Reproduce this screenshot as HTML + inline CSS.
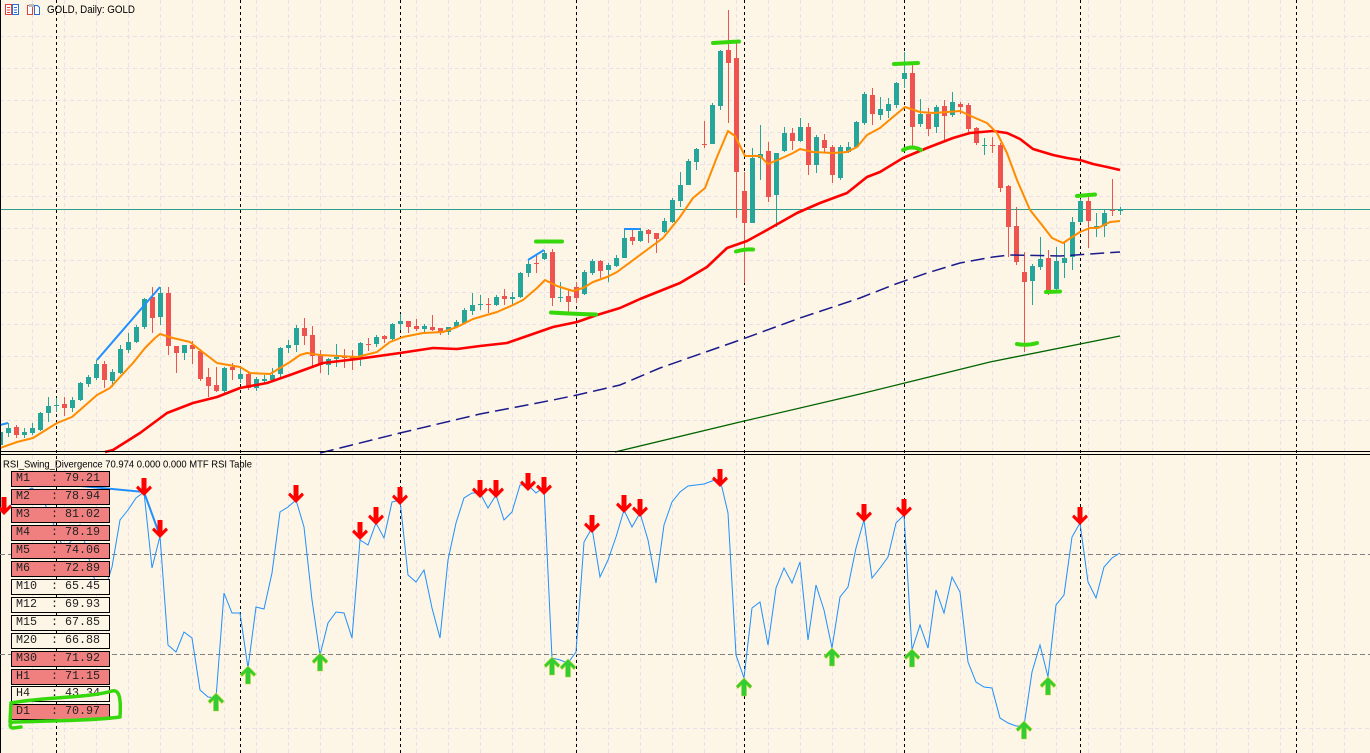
<!DOCTYPE html>
<html><head><meta charset="utf-8"><style>
html,body{margin:0;padding:0;background:#fdf5e6;}
svg{display:block;}
</style></head><body>
<svg width="1370" height="753" viewBox="0 0 1370 753" xmlns="http://www.w3.org/2000/svg">
<defs>
<polygon id="da" points="0,0 8,-8 6,-10.5 2.5,-7 2.5,-18 -2.5,-18 -2.5,-7 -6,-10.5 -8,-8" fill="#ff0000"/>
<polygon id="ua" points="0,0 8,8 6,10.5 2.5,7 2.5,18 -2.5,18 -2.5,7 -6,10.5 -8,8" fill="#32cd32" stroke="#b8d830" stroke-width="0.6"/>
</defs>
<rect width="1370" height="753" fill="#fdf5e6"/>
<!-- faint grid -->
<path d="M32.5 0V753M64.5 0V753M96.5 0V753M128.5 0V753M160.5 0V753M192.5 0V753M224.5 0V753M256.5 0V753M288.5 0V753M320.5 0V753M352.5 0V753M384.5 0V753M416.5 0V753M448.5 0V753M480.5 0V753M512.5 0V753M544.5 0V753M576.5 0V753M608.5 0V753M640.5 0V753M672.5 0V753M704.5 0V753M736.5 0V753M768.5 0V753M800.5 0V753M832.5 0V753M864.5 0V753M896.5 0V753M928.5 0V753M960.5 0V753M992.5 0V753M1024.5 0V753M1056.5 0V753M1088.5 0V753M1120.5 0V753M1152.5 0V753M1184.5 0V753M1216.5 0V753M1248.5 0V753M1280.5 0V753M1312.5 0V753M1344.5 0V753M0 36.5H1370M0 68.5H1370M0 100.5H1370M0 132.5H1370M0 164.5H1370M0 196.5H1370M0 228.5H1370M0 260.5H1370M0 292.5H1370M0 324.5H1370M0 356.5H1370M0 388.5H1370M0 420.5H1370M0 728.5H1370" stroke="#e9e0ec" stroke-width="1" stroke-dasharray="4,3" fill="none"/>
<!-- period separators -->
<path d="M56.5 0V753M240.5 0V753M400.5 0V753M576.5 0V753M744.5 0V753M904.5 0V753M1080.5 0V753M1296.5 0V753" stroke="#000" stroke-width="1" stroke-dasharray="3,3" fill="none"/>
<!-- horizontal price line -->
<path d="M0 209.5H1370" stroke="#2e9e8c" stroke-width="1"/>
<!-- candles -->
<path stroke="#26a69a" stroke-width="1" fill="none" d="M0.5 428V450M8.5 423V437M24.5 428V438M32.5 423V435M40.5 412V431M48.5 397V422M56.5 398V412M72.5 397V412M80.5 382V401M88.5 375V387M96.5 360V380M112.5 369V387M120.5 345V374M128.5 333V353M136.5 325V343M144.5 298V329M160.5 287V325M184.5 345V360M224.5 367V393M240.5 368V383M256.5 377V391M264.5 375V383M272.5 368V382M280.5 347V377M288.5 340V353M296.5 325V352M328.5 358V375M336.5 344V367M360.5 342V366M376.5 335V347M392.5 323V340M400.5 314V330M424.5 324V332M448.5 327V335M456.5 320V328M464.5 308V324M472.5 293V315M480.5 295V310M496.5 295V306M512.5 292V305M520.5 272V298M528.5 260V277M544.5 250V260M560.5 282V302M584.5 270V295M592.5 259V275M608.5 263V282M616.5 255V267M624.5 229V258M640.5 228V242M664.5 218V233M672.5 198V223M680.5 172V207M688.5 159V185M696.5 148V170M712.5 103V144M720.5 50V110M752.5 148V223M760.5 125V180M776.5 153V227M784.5 127V152M800.5 118V142M816.5 135V173M840.5 145V180M848.5 142V153M856.5 121V148M864.5 92V125M880.5 97V120M888.5 98V118M896.5 82V108M904.5 52V88M920.5 99V127M936.5 105V133M952.5 92V117M984.5 138V155M1032.5 264V305M1040.5 237V270M1056.5 247V290M1064.5 243V278M1072.5 217V270M1080.5 199V223M1096.5 213V237M1104.5 209V237M1120.5 207V215"/>
<path fill="#26a69a" d="M-2 432h5v13h-5zM6 428h5v5h-5zM22 432h5v3h-5zM30 428h5v5h-5zM38 413h5v17h-5zM46 406h5v7h-5zM54 405h5v1h-5zM70 400h5v8h-5zM78 383h5v17h-5zM86 377h5v7h-5zM94 364h5v14h-5zM110 372h5v9h-5zM118 349h5v24h-5zM126 342h5v8h-5zM134 327h5v15h-5zM142 299h5v28h-5zM158 293h5v24h-5zM182 345h5v8h-5zM222 368h5v23h-5zM238 374h5v5h-5zM254 379h5v9h-5zM262 379h5v2h-5zM270 375h5v5h-5zM278 348h5v26h-5zM286 345h5v3h-5zM294 328h5v17h-5zM326 359h5v6h-5zM334 357h5v2h-5zM358 343h5v15h-5zM374 337h5v7h-5zM390 324h5v15h-5zM398 321h5v3h-5zM422 326h5v3h-5zM446 327h5v5h-5zM454 322h5v5h-5zM462 310h5v13h-5zM470 305h5v6h-5zM478 304h5v1h-5zM494 297h5v8h-5zM510 297h5v2h-5zM518 273h5v24h-5zM526 264h5v9h-5zM542 253h5v6h-5zM558 297h5v1h-5zM582 272h5v22h-5zM590 261h5v12h-5zM606 265h5v5h-5zM614 258h5v8h-5zM622 238h5v20h-5zM638 231h5v10h-5zM662 221h5v11h-5zM670 200h5v22h-5zM678 185h5v16h-5zM686 161h5v24h-5zM694 149h5v13h-5zM710 105h5v39h-5zM718 51h5v55h-5zM750 158h5v65h-5zM758 154h5v4h-5zM774 153h5v42h-5zM782 133h5v18h-5zM798 127h5v14h-5zM814 137h5v28h-5zM838 147h5v31h-5zM846 147h5v5h-5zM854 122h5v25h-5zM862 94h5v29h-5zM878 109h5v6h-5zM886 104h5v7h-5zM894 83h5v22h-5zM902 73h5v6h-5zM918 114h5v10h-5zM934 107h5v20h-5zM950 102h5v13h-5zM982 145h5v1h-5zM1030 266h5v15h-5zM1038 259h5v8h-5zM1054 261h5v28h-5zM1062 258h5v5h-5zM1070 222h5v35h-5zM1078 201h5v21h-5zM1094 226h5v1h-5zM1102 213h5v13h-5zM1118 210h5v1h-5z"/>
<path stroke="#ef5350" stroke-width="1" fill="none" d="M16.5 425V438M64.5 397V416M104.5 361V388M152.5 287V333M168.5 287V355M176.5 346V373M192.5 341V364M200.5 349V381M208.5 368V397M216.5 367V392M232.5 363V380M248.5 372V390M304.5 318V345M312.5 326V368M320.5 350V373M344.5 349V368M352.5 350V370M368.5 338V351M384.5 335V343M408.5 321V333M416.5 319V331M432.5 315V331M440.5 328V335M488.5 298V313M504.5 289V305M536.5 255V273M552.5 249V306M568.5 290V312M576.5 282V303M600.5 260V278M632.5 228V245M648.5 229V243M656.5 233V253M704.5 121V148M728.5 10V123M736.5 43V218M744.5 172V283M768.5 142V202M792.5 128V150M808.5 123V175M824.5 134V153M832.5 145V183M872.5 88V125M912.5 63V147M928.5 108V136M944.5 100V142M960.5 102V114M968.5 103V132M976.5 127V145M992.5 137V153M1000.5 143V192M1008.5 185V257M1016.5 207V265M1024.5 252V352M1048.5 250V295M1088.5 195V248M1112.5 179V216"/>
<path fill="#ef5350" d="M14 427h5v8h-5zM62 404h5v4h-5zM102 364h5v16h-5zM150 297h5v21h-5zM166 293h5v53h-5zM174 346h5v7h-5zM190 345h5v4h-5zM198 351h5v28h-5zM206 377h5v9h-5zM214 385h5v6h-5zM230 367h5v3h-5zM246 374h5v14h-5zM302 328h5v8h-5zM310 335h5v21h-5zM318 355h5v10h-5zM342 356h5v2h-5zM350 357h5v3h-5zM366 344h5v1h-5zM382 336h5v3h-5zM406 321h5v6h-5zM414 326h5v3h-5zM430 327h5v3h-5zM438 328h5v4h-5zM486 304h5v1h-5zM502 296h5v3h-5zM534 263h5v1h-5zM550 252h5v46h-5zM566 296h5v6h-5zM574 287h5v11h-5zM598 261h5v10h-5zM630 237h5v4h-5zM646 230h5v4h-5zM654 233h5v6h-5zM702 144h5v1h-5zM726 50h5v13h-5zM734 58h5v114h-5zM742 191h5v32h-5zM766 151h5v46h-5zM790 133h5v8h-5zM806 127h5v38h-5zM822 140h5v8h-5zM830 147h5v28h-5zM870 95h5v19h-5zM910 73h5v54h-5zM926 114h5v15h-5zM942 106h5v10h-5zM958 104h5v3h-5zM966 105h5v24h-5zM974 128h5v15h-5zM990 145h5v1h-5zM998 145h5v43h-5zM1006 186h5v41h-5zM1014 226h5v36h-5zM1022 272h5v10h-5zM1046 258h5v32h-5zM1086 201h5v20h-5zM1110 210h5v1h-5z"/>
<!-- moving averages -->
<polyline fill="none" stroke="#006400" stroke-width="1.3" points="615,452 740,422 860,394 990,362 1120,336"/>
<polyline fill="none" stroke="#1a1a8c" stroke-width="1.5" stroke-dasharray="14,6" points="320,453 400,433 480,414 553,400 577,395 603,389 620,385 660,368 740,340 800,318 860,298 893,285 927,273 960,263 993,257 1010,255 1060,256 1120,252"/>
<polyline fill="none" stroke="#ff0000" stroke-width="2.6" stroke-linejoin="round" points="105,452 113,450 140,433 167,413 193,403 217,397 240,388 267,383 290,375 323,363 357,359 400,353 433,348 457,349 480,346 507,343 530,335 553,327 577,322 597,315 620,308 640,299 680,283 707,267 727,248 747,241 767,230 797,213 820,203 847,193 867,177 880,172 903,158 927,148 953,138 970,133 993,131 1007,133 1020,139 1033,149 1053,155 1067,158 1080,160 1093,164 1107,167 1120,170"/>
<polyline fill="none" stroke="#ff8c00" stroke-width="2" stroke-linejoin="round" points="0,448 17,442 33,438 57,423 72,417 97,395 110,388 120,377 133,363 145,348 155,338 160,334 173,338 190,342 200,350 217,363 240,367 250,373 270,374 280,368 290,362 300,355 307,353 320,355 357,357 377,352 390,342 403,337 423,333 443,332 457,327 473,319 497,312 513,305 523,300 537,288 545,280 557,286 573,291 583,288 593,282 607,277 617,272 640,255 663,238 680,217 693,198 705,188 717,157 728,131 735,136 745,156 760,156 768,164 780,159 793,153 800,149 813,152 833,153 847,152 857,147 867,135 880,128 887,122 905,107 920,112 933,113 947,112 960,111 973,117 987,123 997,133 1007,153 1017,180 1030,210 1042,225 1052,238 1063,243 1080,232 1090,228 1098,228 1110,222 1120,221"/>
<!-- divergence lines on price -->
<path d="M0 425L8 423M97 360L160 287M528 260L544 250M624 229L640 229" stroke="#1e90ff" stroke-width="2" fill="none"/>
<!-- hand-drawn green marks -->
<path d="M536 241.5L562 241.5M551 312.5Q575 314 596 314.5M713 43L739 41.5M736 251.5Q745 249 753 249.5M894 64L918 63M903 150Q912 145 921 150M1046 292L1060 291.5M1017 344Q1027 346 1037 343M1077 196L1095 194.5" stroke="#36d80c" stroke-width="4" stroke-linecap="round" fill="none"/>
<!-- title -->
<g>
<rect x="5.5" y="4.5" width="6" height="10" fill="#fff" stroke="#e04040"/>
<rect x="12.5" y="4.5" width="6" height="10" fill="#fff" stroke="#2a6fd6"/>
<path d="M7 7.5h3M7 10h3M7 12.5h3" stroke="#e04040"/>
<path d="M14 7.5h3M14 10h3M14 12.5h3" stroke="#2a6fd6"/>
<path d="M27.5 5.5h5v9h-5z" fill="#fff" stroke="#e04040"/>
<path d="M34.5 5.5h3l2 2v7h-5z" fill="#fff" stroke="#2a6fd6"/>
<rect x="29" y="4" width="5" height="3" fill="#bbb"/>
</g>
<text x="47" y="13" font-family="Liberation Sans, sans-serif" font-size="11" fill="#000" textLength="88" lengthAdjust="spacingAndGlyphs">GOLD, Daily:  GOLD</text>
<!-- panel separator -->
<path d="M0 451.5H1370M0 454.5H1370" stroke="#000" stroke-width="1"/>
<path d="M0.5 0V753" stroke="#000" stroke-width="1"/>
<!-- RSI panel -->
<path d="M0 554.5H1370M0 654.5H1370" stroke="#808080" stroke-width="1" stroke-dasharray="5,3"/>
<polyline fill="none" stroke="#1e90ff" stroke-width="1" points="0,512 8,508 16,500 24,492 32,488 40,495 48,510 56,530 64,550 72,540 80,525 88,555 96,585 104,592 112,567 120,520 128,510 136,498 144,492 152,568 160,536 168,645 176,652 184,632 192,638 200,690 208,697 216,698 224,593 232,613 240,613 248,668 256,607 264,609 272,573 280,512 288,507 296,500 304,527 312,600 320,655 328,623 336,612 344,613 352,638 360,540 368,545 376,523 384,538 392,502 400,500 408,575 416,582 424,570 432,608 440,638 448,560 456,523 464,498 472,493 480,493 488,508 496,495 504,520 512,512 520,485 528,485 536,493 544,487 552,658 560,660 568,663 576,652 584,542 592,528 600,577 608,560 616,537 624,510 632,527 640,513 648,540 656,583 664,525 672,502 680,492 688,486 696,485 704,484 712,481 720,479 728,513 736,655 744,678 752,608 760,602 768,645 776,588 784,568 792,583 800,562 808,640 816,585 824,610 832,648 840,597 848,587 856,548 864,520 872,578 880,568 888,557 896,523 904,515 912,650 920,625 928,648 936,590 944,613 952,577 960,592 968,662 976,682 984,687 992,688 1000,718 1008,723 1016,726 1024,726 1032,672 1040,645 1048,677 1056,605 1064,595 1072,537 1080,523 1088,582 1096,598 1104,567 1112,558 1120,553"/>
<path d="M60 484L144 492L160 536" stroke="#1e90ff" stroke-width="2" fill="none"/>
<!-- arrows -->
<use href="#da" x="4" y="515"/>
<use href="#da" x="144" y="496"/>
<use href="#da" x="160" y="538"/>
<use href="#da" x="296" y="503"/>
<use href="#da" x="360" y="540"/>
<use href="#da" x="376" y="525"/>
<use href="#da" x="400" y="505"/>
<use href="#da" x="480" y="498"/>
<use href="#da" x="496" y="498"/>
<use href="#da" x="528" y="491"/>
<use href="#da" x="544" y="495"/>
<use href="#da" x="592" y="533"/>
<use href="#da" x="624" y="513"/>
<use href="#da" x="640" y="517"/>
<use href="#da" x="720" y="487"/>
<use href="#da" x="864" y="522"/>
<use href="#da" x="904" y="517"/>
<use href="#da" x="1080" y="525"/>
<use href="#ua" x="216" y="693"/>
<use href="#ua" x="248" y="666"/>
<use href="#ua" x="320" y="653"/>
<use href="#ua" x="552" y="657"/>
<use href="#ua" x="568" y="659"/>
<use href="#ua" x="744" y="678"/>
<use href="#ua" x="832" y="648"/>
<use href="#ua" x="912" y="649"/>
<use href="#ua" x="1024" y="721"/>
<use href="#ua" x="1048" y="677"/>
<!-- indicator title -->
<text x="3" y="467.5" font-family="Liberation Sans, sans-serif" font-size="10.5" fill="#000" textLength="249" lengthAdjust="spacingAndGlyphs">RSI_Swing_Divergence 70.974 0.000 0.000 MTF RSI Table</text>
<!-- MTF table -->
<g stroke="#000" stroke-width="1">
<rect x="11.5" y="471.5" width="98" height="15" fill="#f08080"/>
<rect x="11.5" y="489.5" width="98" height="15" fill="#f08080"/>
<rect x="11.5" y="507.5" width="98" height="15" fill="#f08080"/>
<rect x="11.5" y="525.5" width="98" height="15" fill="#f08080"/>
<rect x="11.5" y="543.5" width="98" height="15" fill="#f08080"/>
<rect x="11.5" y="561.5" width="98" height="15" fill="#f08080"/>
<rect x="11.5" y="579.5" width="98" height="15" fill="#fdf5e6"/>
<rect x="11.5" y="597.5" width="98" height="15" fill="#fdf5e6"/>
<rect x="11.5" y="615.5" width="98" height="15" fill="#fdf5e6"/>
<rect x="11.5" y="633.5" width="98" height="15" fill="#fdf5e6"/>
<rect x="11.5" y="651.5" width="98" height="15" fill="#f08080"/>
<rect x="11.5" y="669.5" width="98" height="15" fill="#f08080"/>
<rect x="11.5" y="686.5" width="98" height="15" fill="#fdf5e6"/>
<rect x="11.5" y="704.5" width="98" height="15" fill="#f08080"/>
</g>
<g font-family="Liberation Mono, monospace" font-size="11.7" fill="#222">
<text x="16" y="481">M1</text><text x="51" y="481">:</text><text x="65" y="481">79.21</text>
<text x="16" y="499">M2</text><text x="51" y="499">:</text><text x="65" y="499">78.94</text>
<text x="16" y="517">M3</text><text x="51" y="517">:</text><text x="65" y="517">81.02</text>
<text x="16" y="535">M4</text><text x="51" y="535">:</text><text x="65" y="535">78.19</text>
<text x="16" y="553">M5</text><text x="51" y="553">:</text><text x="65" y="553">74.06</text>
<text x="16" y="571">M6</text><text x="51" y="571">:</text><text x="65" y="571">72.89</text>
<text x="16" y="589">M10</text><text x="51" y="589">:</text><text x="65" y="589">65.45</text>
<text x="16" y="607">M12</text><text x="51" y="607">:</text><text x="65" y="607">69.93</text>
<text x="16" y="625">M15</text><text x="51" y="625">:</text><text x="65" y="625">67.85</text>
<text x="16" y="643">M20</text><text x="51" y="643">:</text><text x="65" y="643">66.88</text>
<text x="16" y="661">M30</text><text x="51" y="661">:</text><text x="65" y="661">71.92</text>
<text x="16" y="679">H1</text><text x="51" y="679">:</text><text x="65" y="679">71.15</text>
<text x="16" y="696">H4</text><text x="51" y="696">:</text><text x="65" y="696">43.34</text>
<text x="16" y="714">D1</text><text x="51" y="714">:</text><text x="65" y="714">70.97</text>
</g>
<!-- hand-drawn loop around D1 -->
<path d="M11 703C40 697 90 698 112 691C120 689 121 700 120 717C90 721 40 721 14 722C9 722 9 728 13 728L21 727M11 703L10 722" stroke="#36d80c" stroke-width="3.5" stroke-linecap="round" stroke-linejoin="round" fill="none"/>
</svg>
</body></html>
